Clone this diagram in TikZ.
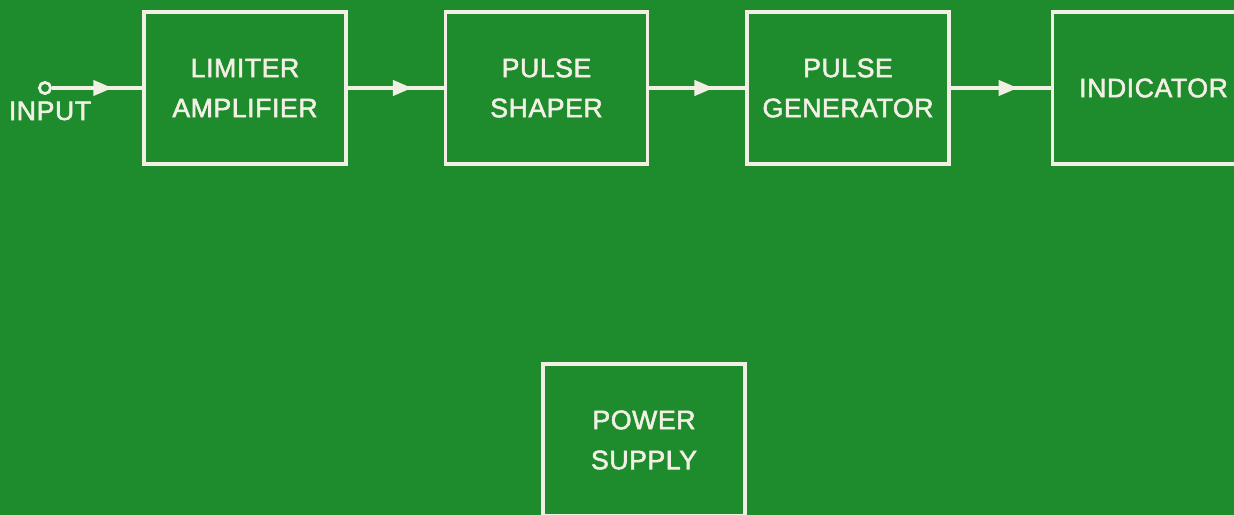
\documentclass[tikz,border=0pt]{standalone}
\usepackage{fontspec}
\setmainfont{Liberation Sans}[UprightFeatures={FakeBold=2},LetterSpace=2]
\usetikzlibrary{positioning,arrows.meta,decorations.markings}
\definecolor{boardgreen}{RGB}{30,139,45}
\definecolor{chalk}{RGB}{242,240,228}
\tikzset{
  block/.style={draw=chalk, line width=2.5pt, minimum width=5.05cm, minimum height=3.8cm,
    align=center, text=chalk, font=\fontsize{19}{28.5}\selectfont},
  flow/.style={draw=chalk, color=chalk, line width=2.5pt, postaction={decorate},
    decoration={markings, mark=at position 0.67 with {\arrow{Triangle[length=0.48cm,width=0.38cm]}}}},
}
\begin{document}
\begin{tikzpicture}
        %% board
        \fill[boardgreen] (0,0) rectangle (30.85,-12.875);
        \useasboundingbox (0,0) rectangle (30.85,-12.875);
        %% signal chain
        \node[block] (lim) at (6.125,-2.2) {LIMITER\\AMPLIFIER};
        \node[block, right=2.4cm of lim] (shp) {PULSE\\SHAPER};
        \node[block, right=2.4cm of shp] (gen) {PULSE\\GENERATOR};
        \node[block, right=2.5cm of gen] (ind) {INDICATOR};
        %% input terminal
        \node[circle, draw=chalk, line width=2pt, minimum size=0.28cm, inner sep=0pt] (in) at (1.125,-2.2) {};
        \node[anchor=base, text=chalk, font=\fontsize{19}{28.5}\selectfont] (inlbl) at (1.25,-3.0) {INPUT};
        \draw[flow] (in) -- (lim);
        \draw[flow] (lim) -- (shp);
        \draw[flow] (shp) -- (gen);
        \draw[flow] (gen) -- (ind);
        %% supply
        \node[block] (pwr) at (16.1,-11.0) {POWER\\SUPPLY};
    \end{tikzpicture}
\end{document}
